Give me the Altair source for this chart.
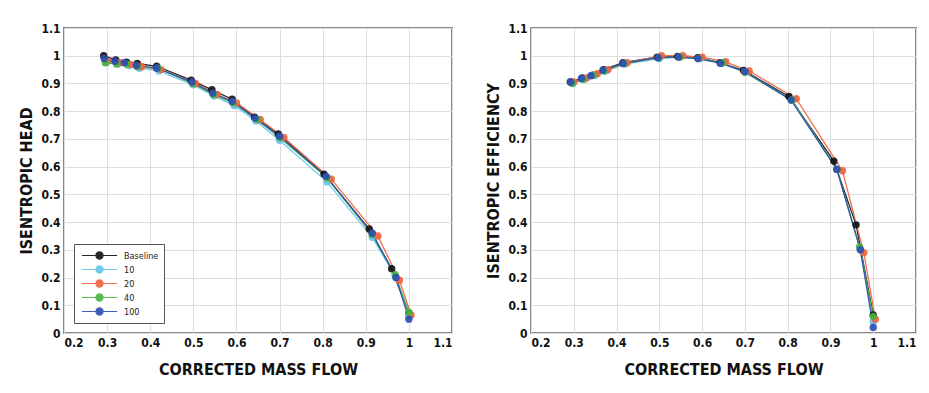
import altair as alt
import pandas as pd

series = ["Baseline", "10", "20", "40", "100"]
colors = ["#111111", "#62c6ea", "#f0603c", "#45b43f", "#2d4db4"]

flow = {
    "Baseline": [0.292, 0.320, 0.345, 0.370, 0.415, 0.495, 0.543, 0.590, 0.642, 0.697, 0.803, 0.908, 0.960, 1.000],
    "10":       [0.298, 0.325, 0.350, 0.375, 0.420, 0.500, 0.548, 0.595, 0.645, 0.700, 0.810, 0.915, 0.970, 1.000],
    "20":       [0.300, 0.330, 0.355, 0.380, 0.425, 0.505, 0.555, 0.600, 0.655, 0.710, 0.820, 0.928, 0.978, 1.005],
    "40":       [0.296, 0.322, 0.345, 0.370, 0.418, 0.498, 0.547, 0.592, 0.648, 0.700, 0.810, 0.915, 0.968, 1.000],
    "100":      [0.293, 0.318, 0.340, 0.368, 0.415, 0.497, 0.545, 0.590, 0.643, 0.700, 0.808, 0.915, 0.970, 1.000],
}
head = {
    "Baseline": [1.000, 0.985, 0.977, 0.972, 0.962, 0.912, 0.877, 0.843, 0.778, 0.718, 0.573, 0.375, 0.232, 0.070],
    "10":       [0.975, 0.970, 0.965, 0.955, 0.945, 0.895, 0.855, 0.820, 0.765, 0.695, 0.545, 0.345, 0.200, 0.060],
    "20":       [0.980, 0.975, 0.968, 0.960, 0.950, 0.900, 0.860, 0.830, 0.770, 0.705, 0.555, 0.350, 0.190, 0.065],
    "40":       [0.975, 0.970, 0.970, 0.960, 0.955, 0.900, 0.860, 0.830, 0.770, 0.705, 0.560, 0.355, 0.210, 0.075],
    "100":      [0.990, 0.980, 0.975, 0.965, 0.955, 0.905, 0.865, 0.835, 0.775, 0.710, 0.565, 0.360, 0.200, 0.050],
}
eff = {
    "Baseline": [0.905, 0.920, 0.930, 0.950, 0.975, 0.995, 0.997, 0.993, 0.975, 0.947, 0.853, 0.620, 0.390, 0.065],
    "10":       [0.900, 0.915, 0.930, 0.945, 0.970, 0.990, 0.995, 0.990, 0.972, 0.942, 0.840, 0.590, 0.300, 0.040],
    "20":       [0.905, 0.920, 0.935, 0.950, 0.975, 1.000, 1.000, 0.995, 0.978, 0.945, 0.845, 0.585, 0.290, 0.050],
    "40":       [0.900, 0.915, 0.930, 0.945, 0.972, 0.993, 0.995, 0.990, 0.975, 0.940, 0.840, 0.590, 0.310, 0.060],
    "100":      [0.905, 0.918, 0.928, 0.948, 0.972, 0.993, 0.995, 0.990, 0.973, 0.943, 0.840, 0.590, 0.300, 0.020],
}

x_ticks = [0.2, 0.3, 0.4, 0.5, 0.6, 0.7, 0.8, 0.9, 1.0, 1.1]
y_ticks = [0, 0.1, 0.2, 0.3, 0.4, 0.5, 0.6, 0.7, 0.8, 0.9, 1.0, 1.1]

rows = []
for s in series:
    for f, h, e in zip(flow[s], head[s], eff[s]):
        rows.append({"series": s, "flow": f, "head": h, "eff": e})
df = pd.DataFrame(rows)

FONT = "DejaVu Sans Condensed, DejaVu Sans, sans-serif"

# line with a circle in the middle, wider than the nominal symbol box
legend_path = ("M -3.2 0 L 3.2 0 M -0.65 0 A 0.65 0.65 0 1 1 0.65 0 "
               "A 0.65 0.65 0 1 1 -0.65 0 Z")

color_scale = alt.Scale(domain=series, range=colors)
legend = alt.Legend(
    title=None, orient="bottom-left", offset=10,
    symbolType=legend_path, symbolSize=121, symbolOffset=14,
    symbolStrokeWidth=1.2, symbolOpacity=0.9,
    labelFont=FONT, labelFontSize=9, labelColor="#222", labelOffset=18,
    rowPadding=1, padding=5, columnPadding=4,
    strokeColor="#555", fillColor="white",
)


def panel(field, ytitle, w):
    base = alt.Chart(df)
    x = alt.X("flow:Q", title="CORRECTED MASS FLOW",
              scale=alt.Scale(domain=[0.2, 1.1], nice=False, padding=0, zero=False),
              axis=alt.Axis(values=x_ticks, format="~g"))
    y = alt.Y(f"{field}:Q", title=ytitle,
              scale=alt.Scale(domain=[0, 1.1], nice=False, padding=0),
              axis=alt.Axis(values=y_ticks, format="~g"))
    color = alt.Color("series:N", scale=color_scale, sort=series, legend=legend)
    lines = base.mark_line(strokeWidth=1.3, opacity=0.9).encode(
        x=x, y=y, color=color, order="flow:Q",
    )
    pts = base.mark_point(filled=True, size=55, opacity=0.9).encode(
        x=x, y=y, color=color,
    )
    return alt.layer(lines, pts).properties(width=w, height=305)


left = panel("head", "ISENTROPIC HEAD", 388)
right = panel("eff", "ISENTROPIC EFFICIENCY", 385)

chart = alt.hconcat(left, right, spacing=31).properties(
    padding={"left": 9, "top": 13, "right": 0, "bottom": 0},
    background="white",
).configure_view(
    stroke="#888888", strokeWidth=2
).configure_axis(
    domain=False, ticks=False,
    grid=True, gridColor="#dddddd", gridWidth=1,
    labelFont=FONT, labelFontSize=12, labelFontWeight="bold",
    labelColor="#111", labelPadding=4,
    titleFont=FONT, titleFontSize=16, titleFontWeight="bold",
    titleColor="#111",
).configure_axisY(
    titlePadding=6,
).configure_axisX(
    titlePadding=13,
)

chart.save("out.html", embed_options={"renderer": "svg", "actions": False})
